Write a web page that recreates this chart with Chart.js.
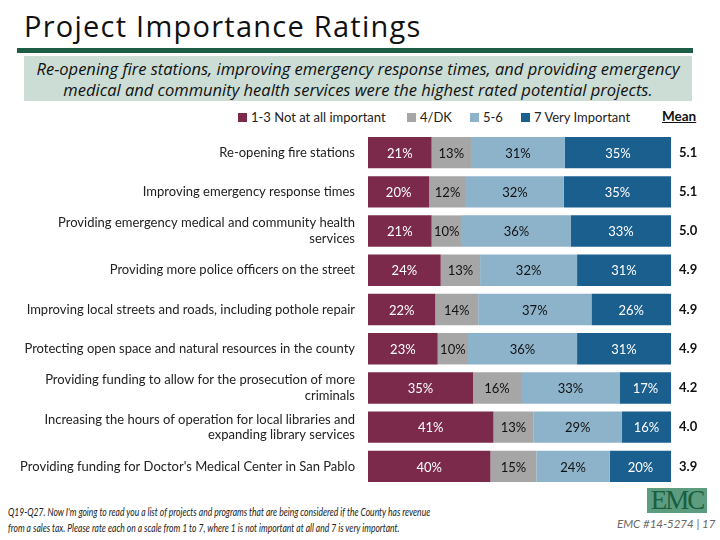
<!DOCTYPE html>
<html>
<head>
<meta charset="utf-8">
<script src="https://cdn.jsdelivr.net/npm/chart.js@4/dist/chart.umd.min.js"></script>
<style>
  html, body { margin: 0; padding: 0; background: #fff; }
  body { width: 720px; height: 540px; position: relative; overflow: hidden; font-family: Lato, "Open Sans", sans-serif; }
  .title { position: absolute; left: 24px; top: 6px; font-family: "Open Sans", sans-serif; font-size: 29px; letter-spacing: 1.25px; color: #111; }
  .rule { position: absolute; left: 17px; top: 48px; width: 676px; height: 5px; background: #1b5e45; }
  .sub { position: absolute; left: 24px; top: 56px; width: 668px; height: 45px; background: #cbddd5;
         font-family: "Open Sans", sans-serif; font-style: italic; font-size: 16.5px; line-height: 21px; text-align: center; color: #111; padding-top: 2px; box-sizing: border-box; white-space: nowrap; }
  .legend { position: absolute; top: 109px; left: 0; font-size: 13px; color: #222; }
  .legend span.item { position: absolute; white-space: nowrap; top: 0; }
  .legend i { display: inline-block; width: 9px; height: 9px; margin-right: 4px; vertical-align: 0px; }
  .mean { position: absolute; left: 662px; top: 108px; font-size: 13.5px; font-weight: bold; text-decoration: underline; color: #111; }
  #wrap { position: absolute; left: 0; top: 133px; width: 720px; height: 353px; }
  .foot { position: absolute; left: 8px; top: 504px; font-style: italic; font-size: 11px; line-height: 15.5px; color: #222;
          transform-origin: 0 0; transform: scaleX(0.775); white-space: nowrap; }
  .logo { position: absolute; left: 647px; top: 488px; width: 60px; height: 25px; background: #5e9c80; color: #175f40;
          font-family: "Liberation Serif", "DejaVu Serif", serif; font-size: 27px; line-height: 25px; text-align: center; letter-spacing: -2px; overflow: hidden; }
  .page { position: absolute; left: 617px; top: 517px; font-style: italic; font-size: 11.5px; color: #666; white-space: nowrap; }
</style>
</head>
<body>
<div class="title">Project Importance Ratings</div>
<div class="rule"></div>
<div class="sub">Re-opening fire stations, improving emergency response times, and providing emergency<br>medical and community health services were the highest rated potential projects.</div>
<div class="legend" id="legend"></div>
<div class="mean">Mean</div>
<div id="wrap"><canvas id="chartRatings"></canvas></div>
<div class="foot">Q19-Q27. Now I'm going to read you a list of projects and programs that are being considered if the County has revenue<br>from a sales tax. Please rate each on a scale from 1 to 7, where 1 is not important at all and 7 is very important.</div>
<div class="logo">EMC</div>
<div class="page">EMC #14-5274 | 17</div>

<script>
const projects = [
  "Re-opening fire stations",
  "Improving emergency response times",
  ["Providing emergency medical and community health", "services"],
  "Providing more police officers on the street",
  "Improving local streets and roads, including pothole repair",
  "Protecting open space and natural resources in the county",
  ["Providing funding to allow for the prosecution of more", "criminals"],
  ["Increasing the hours of operation for local libraries and", "expanding library services"],
  "Providing funding for Doctor's Medical Center in San Pablo"
];
const notImportant = [21, 20, 21, 24, 22, 23, 35, 41, 40];
const dontKnow     = [13, 12, 10, 13, 14, 10, 16, 13, 15];
const fiveSix      = [31, 32, 36, 32, 37, 36, 33, 29, 24];
const veryImportant = [35, 35, 33, 31, 26, 31, 17, 16, 20];
const means = ["5.1", "5.1", "5.0", "4.9", "4.9", "4.9", "4.2", "4.0", "3.9"];

const seriesNames = ["1-3 Not at all important", "4/DK", "5-6", "7 Very Important"];
const seriesColors = ["#7b2a4b", "#a6a6a6", "#8db3cb", "#1b5f8f"];
const labelColors = ["#fff", "#111", "#111", "#fff"];
const legendX = [238, 407, 470, 521];

// html legend
const legendEl = document.getElementById("legend");
seriesNames.forEach((n, i) => {
  const s = document.createElement("span");
  s.className = "item";
  s.style.left = legendX[i] + "px";
  s.innerHTML = '<i style="background:' + seriesColors[i] + '"></i>' + n;
  legendEl.appendChild(s);
});

const raw = [notImportant, dontKnow, fiveSix, veryImportant];
const totals = projects.map((_, r) => raw.reduce((a, s) => a + s[r], 0));

const barLabels = {
  id: "barLabels",
  afterDatasetsDraw(chart) {
    const ctx = chart.ctx;
    ctx.save();
    ctx.font = "13px Lato, sans-serif";
    ctx.textAlign = "center";
    ctx.textBaseline = "middle";
    chart.data.datasets.forEach((ds, di) => {
      chart.getDatasetMeta(di).data.forEach((bar, i) => {
        const x = (bar.x + bar.base) / 2;
        ctx.fillStyle = labelColors[di];
        ctx.fillText(raw[di][i] + "%", x, bar.y + 1);
      });
    });
    ctx.restore();
  }
};

new Chart(document.getElementById("chartRatings"), {
  type: "bar",
  data: {
    labels: projects,
    datasets: raw.map((vals, i) => ({
      label: seriesNames[i],
      data: vals.map((v, r) => v / totals[r] * 100),
      backgroundColor: seriesColors[i],
      borderWidth: 0,
      barPercentage: 0.8,
      categoryPercentage: 1
    }))
  },
  options: {
    indexAxis: "y",
    responsive: true,
    maintainAspectRatio: false,
    animation: false,
    layout: { padding: 0 },
    plugins: { legend: { display: false }, tooltip: { enabled: false } },
    scales: {
      x: { stacked: true, min: 0, max: 100, display: false },
      y: {
        stacked: true,
        offset: true,
        grid: { display: false, offset: true },
        border: { display: false },
        ticks: { color: "#222", font: { size: 13, family: "Lato" }, padding: 5, autoSkip: false },
        afterFit(scale) { scale.width = 368; scale.paddingTop = 0; scale.paddingBottom = 0; }
      },
      y2: {
        position: "right",
        type: "category",
        offset: true,
        labels: means,
        grid: { display: false, offset: true },
        border: { display: false },
        ticks: { color: "#111", font: { size: 13, weight: "bold", family: "Lato" }, padding: 0, autoSkip: false },
        afterFit(scale) { scale.width = 49; scale.paddingTop = 0; scale.paddingBottom = 0; }
      }
    }
  },
  plugins: [barLabels]
});
</script>
</body>
</html>
